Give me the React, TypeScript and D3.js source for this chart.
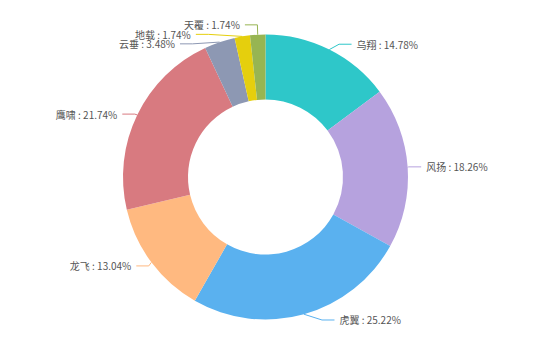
import React from 'react';
import * as d3 from 'd3';

const names = ['乌翔', '风扬', '虎翼', '龙飞', '鹰啸', '云垂', '地载', '天覆'];
const values = [17, 21, 29, 15, 25, 4, 2, 2];
const colors = ['#2ec7c9', '#b6a2de', '#5ab1ef', '#ffb980', '#d87a80', '#8d98b3', '#e5cf0d', '#97b552'];

const W = 540;
const H = 357;
const CX = 265.5;
const CY = 177;
const R = 142.5;
const R0 = 77.5;
const L1 = 6;
const L2 = 12.5;
const DIST = 5;
const LH = 9.5;

type Lab = {
  i: number;
  x: number;
  y: number;
  height: number;
  left: boolean;
  pts: [number, number][];
  text: string;
};

function adjustSide(list: Lab[], dir: number) {
  list.sort((a, b) => a.y - b.y);
  const len = list.length;
  function shiftUp(end: number, delta: number) {
    for (let j = end; j >= 0; j--) {
      if (list[j].y - delta < 0) break;
      list[j].y -= delta;
      if (j > 0 && list[j].y > list[j - 1].y + list[j - 1].height) break;
    }
  }
  function shiftDown(start: number, end: number, delta: number) {
    for (let j = start; j < end; j++) {
      if (list[j].y + delta > H) break;
      list[j].y += delta;
      if (j > start && j + 1 < end && list[j + 1].y > list[j].y + list[j].height) {
        shiftUp(j, delta / 2);
        return;
      }
    }
    shiftUp(end - 1, delta / 2);
  }
  let lastY = 0;
  for (let i = 0; i < len; i++) {
    const delta = list[i].y - lastY;
    if (delta < 0) shiftDown(i, len, -delta);
    lastY = list[i].y + list[i].height;
  }
  const up = list.filter((l) => l.y < CY);
  const down = list.filter((l) => l.y >= CY);
  const changeX = (arr: Lab[], isDown: boolean) => {
    let last = isDown ? Number.MAX_VALUE : 0;
    for (const l of arr) {
      const dy = Math.abs(l.y - CY);
      let dx = dy < R + L1 ? Math.sqrt((R + L1 + L2) ** 2 - dy * dy) : Math.abs(l.x - CX);
      if (isDown && dx >= last) dx = last - 10;
      if (!isDown && dx <= last) dx = last + 10;
      l.x = CX + dx * dir;
      last = dx;
    }
  };
  changeX(up, false);
  changeX(down, true);
}

export default function App() {
  const total = d3.sum(values);
  const pie = d3
    .pie<number>()
    .sort(null)
    .startAngle(0)
    .endAngle(Math.PI * 2)
    .value((d) => d);
  const arcs = pie(values);
  const arcGen = d3.arc<d3.PieArcDatum<number>>().innerRadius(R0).outerRadius(R);

  const labels: Lab[] = arcs.map((a, i) => {
    const mid = (a.startAngle + a.endAngle) / 2;
    const dx = Math.sin(mid);
    const dy = -Math.cos(mid);
    const x1 = CX + R * dx;
    const y1 = CY + R * dy;
    const x2 = CX + (R + L1) * dx;
    const y2 = CY + (R + L1) * dy;
    const left = dx < 0;
    const x3 = x2 + (left ? -L2 : L2);
    const pct = ((values[i] / total) * 100).toFixed(2);
    return {
      i,
      x: x3 + (left ? -DIST : DIST),
      y: y2,
      height: LH,
      left,
      pts: [
        [x1, y1],
        [x2, y2],
        [x3, y2],
      ],
      text: `${names[i]} : ${pct}%`,
    };
  });

  const leftList = labels.filter((l) => l.x < CX);
  const rightList = labels.filter((l) => l.x >= CX);
  adjustSide(rightList, 1);
  adjustSide(leftList, -1);
  for (const l of labels) {
    const dist = l.pts[1][0] - l.pts[2][0];
    l.pts[2][0] = l.x < CX ? l.x + DIST : l.x - DIST;
    l.pts[1][0] = l.pts[2][0] + dist;
    l.pts[1][1] = l.y;
    l.pts[2][1] = l.y;
  }

  const line = d3.line();

  return (
    <svg width={W} height={H} style={{ position: 'absolute', left: 0, top: 0, background: '#fff' }}>
      <g transform={`translate(${CX},${CY})`}>
        {arcs.map((a, i) => (
          <path key={names[i]} d={arcGen(a) || ''} fill={colors[i]} />
        ))}
      </g>
      {labels.map((l) => (
        <g key={'lab' + l.i}>
          <path d={line(l.pts) || ''} fill="none" stroke={colors[l.i]} strokeWidth={1} />
          <text
            x={l.x}
            y={l.y}
            textAnchor={l.x < CX ? 'end' : 'start'}
            dominantBaseline="central"
            fontSize={10}
            fill="#555"
            fontFamily="'Noto Sans CJK SC', 'Noto Sans', sans-serif"
          >
            {l.text}
          </text>
        </g>
      ))}
    </svg>
  );
}
